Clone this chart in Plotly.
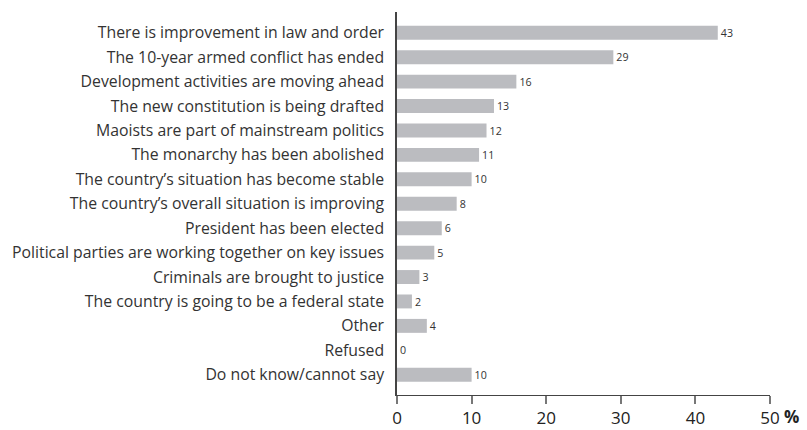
import plotly.graph_objects as go

# Reasons given for the country moving in the right direction (% of respondents)
reasons = [
    "There is improvement in law and order",
    "The 10-year armed conflict has ended",
    "Development activities are moving ahead",
    "The new constitution is being drafted",
    "Maoists are part of mainstream politics",
    "The monarchy has been abolished",
    "The country\u2019s situation has become stable",
    "The country\u2019s overall situation is improving",
    "President has been elected",
    "Political parties are working together on key issues",
    "Criminals are brought to justice",
    "The country is going to be a federal state",
    "Other",
    "Refused",
    "Do not know/cannot say",
]
percent = [43, 29, 16, 13, 12, 11, 10, 8, 6, 5, 3, 2, 4, 0, 10]
x_ticks = [0, 10, 20, 30, 40, 50]

FONT = "Open Sans, Noto Sans, sans-serif"
rows = list(range(len(reasons)))

fig = go.Figure(
    go.Bar(
        x=percent,
        y=rows,
        orientation="h",
        width=0.57,
        marker=dict(color="#bbbcc0", line=dict(width=0)),
        text=[str(v) for v in percent],
        textposition="outside",
        textfont=dict(family=FONT, size=11.5, color="#333333"),
        cliponaxis=False,
        hoverinfo="skip",
    )
)

fig.update_layout(
    width=807,
    height=430,
    margin=dict(l=397, r=37, t=12, b=35),
    paper_bgcolor="white",
    plot_bgcolor="white",
    showlegend=False,
    font=dict(family=FONT, color="#333333"),
)

fig.update_xaxes(
    range=[0, 50],
    tickvals=x_ticks,
    ticktext=[str(t) for t in x_ticks],
    ticks="outside",
    ticklen=8,
    tickcolor="#777777",
    tickwidth=1.5,
    ticklabelstandoff=0,
    automargin=False,
    showline=True,
    linecolor="#444444",
    linewidth=1,
    showgrid=False,
    zeroline=False,
    tickfont=dict(family=FONT, size=17, color="#222222"),
)

fig.update_yaxes(
    range=[len(reasons) - 1 + 0.83, -0.85],
    tickvals=rows,
    ticktext=reasons,
    ticks="",
    ticklabelstandoff=8,
    automargin=False,
    showline=True,
    linecolor="#444444",
    linewidth=1.5,
    showgrid=False,
    zeroline=False,
    tickfont=dict(family=FONT, size=15.8, color="#333333"),
)

# Unit marker next to the last tick label
fig.add_annotation(
    x=50,
    xref="x",
    y=0,
    yref="paper",
    yanchor="top",
    xanchor="left",
    xshift=12,
    yshift=-8,
    text="<b>%</b>",
    showarrow=False,
    font=dict(family=FONT, size=17, color="#222222"),
)

fig.write_html("out.html")
